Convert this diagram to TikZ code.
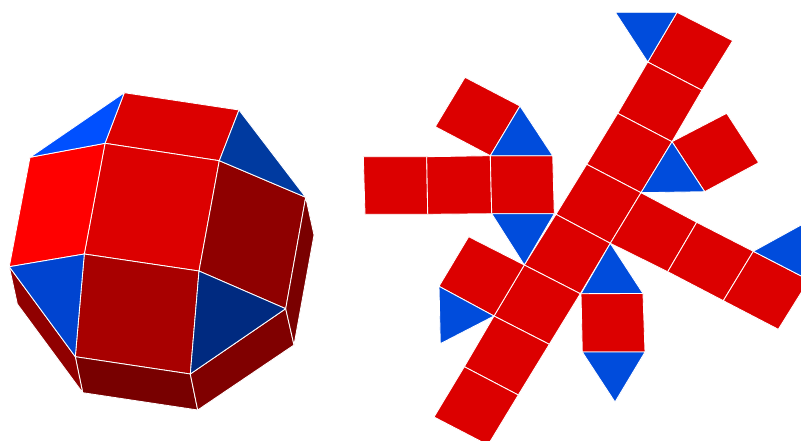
\documentclass[tikz,border=0pt]{standalone}
\definecolor{netred}{HTML}{DC0000}
\definecolor{netblue}{HTML}{004CDC}
\tikzset{
  face/.style={draw=white, line width=0.85pt, line join=round},
  redface/.style={face, fill=netred},
  blueface/.style={face, fill=netblue}
}
\begin{document}
\begin{tikzpicture}[x=1pt, y=-1pt]
  \clip (0,0) rectangle (801,441);
  % Solid: vertices
  \coordinate (a) at (124.3,92.7);
  \coordinate (b) at (239,110);
  \coordinate (c) at (105,143.3);
  \coordinate (d) at (219.3,160.7);
  \coordinate (e) at (30,157.3);
  \coordinate (f) at (305.7,197.3);
  \coordinate (g) at (84.3,254);
  \coordinate (h) at (199,271);
  \coordinate (i) at (9.3,266.7);
  \coordinate (j) at (285.7,308.7);
  \coordinate (k) at (75.3,356.7);
  \coordinate (l) at (190.3,374);
  \coordinate (m) at (82.7,392.7);
  \coordinate (n) at (197.7,410);
  \coordinate (o) at (294,345);
  \coordinate (p) at (314,235);
  \coordinate (q) at (17.3,304);
  % Solid: faces
  \draw[face, fill=netred] (a) -- (b) -- (d) -- (c) -- cycle;
  \draw[face, fill=netred] (c) -- (d) -- (h) -- (g) -- cycle;
  \draw[face, fill=red] (e) -- (c) -- (g) -- (i) -- cycle;
  \draw[face, fill={rgb,255:red,143;green,0;blue,0}] (d) -- (f) -- (j) -- (h) -- cycle;
  \draw[face, fill={rgb,255:red,168;green,0;blue,0}] (g) -- (h) -- (l) -- (k) -- cycle;
  \draw[face, fill={rgb,255:red,120;green,0;blue,0}] (k) -- (l) -- (n) -- (m) -- cycle;
  \draw[face, fill={rgb,255:red,128;green,0;blue,0}] (l) -- (j) -- (o) -- (n) -- cycle;
  \draw[face, fill={rgb,255:red,122;green,0;blue,0}] (f) -- (p) -- (o) -- (j) -- cycle;
  \draw[face, fill={rgb,255:red,144;green,0;blue,0}] (i) -- (k) -- (m) -- (q) -- cycle;
  \draw[face, fill={rgb,255:red,0;green,80;blue,255}] (a) -- (c) -- (e) -- cycle;
  \draw[face, fill={rgb,255:red,0;green,58;blue,160}] (b) -- (f) -- (d) -- cycle;
  \draw[face, fill={rgb,255:red,0;green,68;blue,208}] (i) -- (g) -- (k) -- cycle;
  \draw[face, fill={rgb,255:red,0;green,42;blue,128}] (h) -- (j) -- (l) -- cycle;
  % Net: strip
  \draw[redface] (677,12.3) -- (732.7,40.7) -- (702,90.3) -- (647.7,62) -- cycle;
  \draw[redface] (647.7,62) -- (702,90.3) -- (672,141.7) -- (617.7,113.3) -- cycle;
  \draw[redface] (617.7,113.3) -- (672,141.7) -- (641,192.7) -- (586.7,164.3) -- cycle;
  \draw[redface] (586.7,164.3) -- (641,192.7) -- (610.3,243.3) -- (556,214.3) -- cycle;
  \draw[redface] (556,214.3) -- (610.3,243.3) -- (580.3,293.7) -- (524.3,265) -- cycle;
  \draw[redface] (524.3,265) -- (580.3,293.7) -- (549.3,344.3) -- (494,316) -- cycle;
  \draw[redface] (494,316) -- (549.3,344.3) -- (518.3,395) -- (464.3,366.7) -- cycle;
  \draw[redface] (464.3,366.7) -- (518.3,395) -- (488,445) -- (434,417) -- cycle;
  % Net: left arm
  \draw[redface] (363.3,156.7) -- (426.7,156.7) -- (427.7,214.3) -- (365,214.3) -- cycle;
  \draw[redface] (426.7,156.7) -- (490.3,155.7) -- (491.7,213.7) -- (427.7,214.3) -- cycle;
  \draw[redface] (490.3,155.7) -- (552.7,155.7) -- (554.3,213.7) -- (491.7,213.7) -- cycle;
  \draw[redface] (465,77.3) -- (520,106) -- (490.3,155.7) -- (435.3,126.7) -- cycle;
  \draw[blueface] (520,106) -- (552.7,155.7) -- (490.3,155.7) -- cycle;
  \draw[blueface] (491.7,213.7) -- (554.3,213.7) -- (524.3,265) -- cycle;
  % Net: right arm
  \draw[redface] (641,192.7) -- (696.7,222.3) -- (667.7,271.7) -- (610.3,243.3) -- cycle;
  \draw[redface] (696.7,222.3) -- (753.3,251.3) -- (723.3,300.7) -- (667.7,271.7) -- cycle;
  \draw[redface] (753.3,251.3) -- (809,280) -- (778.3,329.3) -- (723.3,300.7) -- cycle;
  \draw[blueface] (753.3,251.3) -- (812,219) -- (809,280) -- cycle;
  % Net: pieces round the strip
  \draw[blueface] (615.3,12.3) -- (677,12.3) -- (647.7,62) -- cycle;
  \draw[redface] (672,141.7) -- (726.7,113.3) -- (758.7,162.7) -- (704.7,191.7) -- cycle;
  \draw[blueface] (672,141.7) -- (704.7,191.7) -- (641,192.7) -- cycle;
  \draw[redface] (468.7,236.7) -- (524.3,265) -- (494,316) -- (439,286.3) -- cycle;
  \draw[blueface] (439,286.3) -- (494,316) -- (440.3,343.7) -- cycle;
  \draw[blueface] (610.3,243.3) -- (643,293.5) -- (581,293.7) -- cycle;
  \draw[redface] (581,293.7) -- (643,293.5) -- (645,352) -- (582.3,352) -- cycle;
  \draw[blueface] (582.3,352) -- (645,352) -- (615,402) -- cycle;
\end{tikzpicture}
\end{document}
